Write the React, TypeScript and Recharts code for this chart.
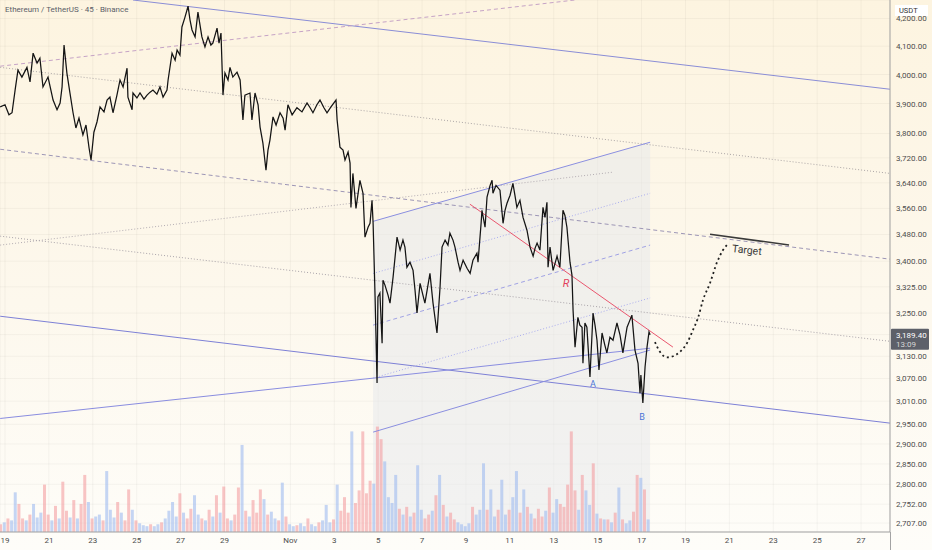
import React from 'react';
import {
  ComposedChart, Line, Bar, Area, XAxis, YAxis, CartesianGrid,
  ReferenceLine, ReferenceDot,
} from 'recharts';

// time unit: days since Oct 19 00:00
const pricePath: [number, number][] = [
  [-0.22,3889],[0.00,3896],[0.18,3862],[0.32,3869],[0.46,3946],[0.59,4015],[0.77,3991],[1.00,4025],[1.14,3974],[1.28,4075],
  [1.46,4040],[1.59,4057],[1.73,3957],[1.96,3991],[2.19,3912],[2.37,3879],[2.51,3902],[2.60,3957],[2.69,4104],[2.82,4005],
  [2.96,3936],[3.10,3869],[3.23,3818],[3.37,3851],[3.55,3795],[3.69,3828],[3.83,3752],[3.92,3713],[4.05,3804],[4.19,3838],
  [4.33,3889],[4.51,3872],[4.65,3912],[4.78,3922],[4.92,3869],[5.10,3929],[5.24,3981],[5.38,3957],[5.56,4022],[5.60,3922],
  [5.79,3879],[5.83,3936],[6.01,3919],[6.15,3936],[6.33,3915],[6.47,3929],[6.61,3939],[6.74,3946],[6.92,3932],[7.06,3957],
  [7.20,3922],[7.38,3946],[7.43,3981],[7.61,4075],[7.75,4050],[7.84,4086],[7.97,4068],[8.06,4169],[8.20,4205],[8.34,4245],
  [8.43,4194],[8.52,4158],[8.66,4133],[8.79,4223],[8.97,4133],[9.11,4097],[9.25,4133],[9.38,4104],[9.47,4111],[9.66,4165],
  [9.75,4111],[9.84,4147],[9.93,3929],[10.02,4005],[10.16,3981],[10.25,4025],[10.38,3991],[10.57,4008],[10.71,3981],[10.84,3845],
  [10.93,3929],[11.16,3936],[11.25,3845],[11.39,3936],[11.53,3896],[11.62,3821],[11.75,3768],[11.89,3680],[11.98,3745],[12.07,3778],
  [12.21,3855],[12.35,3828],[12.53,3869],[12.67,3851],[12.76,3811],[12.89,3896],[13.08,3862],[13.30,3886],[13.53,3872],[13.76,3902],
  [13.90,3886],[14.03,3869],[14.21,3896],[14.35,3912],[14.53,3886],[14.67,3869],[14.85,3889],[15.08,3912],[15.13,3845],[15.26,3755],
  [15.40,3745],[15.49,3713],[15.63,3739],[15.72,3703],[15.76,3563],[15.85,3670],[15.99,3560],[16.17,3648],[16.31,3607],[16.40,3472],
  [16.54,3502],[16.63,3514],[16.72,3585],[16.77,3514],[16.86,3296],[16.95,3058],[16.99,3296],[17.08,3307],[17.18,3166],[17.22,3344],
  [17.31,3330],[17.45,3301],[17.54,3278],[17.68,3353],[17.86,3472],[18.00,3433],[18.13,3463],[18.22,3442],[18.31,3382],[18.45,3397],
  [18.59,3373],[18.68,3315],[18.77,3250],[18.91,3335],[19.04,3301],[19.13,3278],[19.27,3330],[19.36,3364],[19.50,3278],[19.59,3236],
  [19.68,3194],[19.82,3324],[19.91,3442],[20.05,3463],[20.18,3448],[20.27,3484],[20.41,3463],[20.50,3442],[20.64,3397],[20.73,3373],
  [20.87,3403],[21.05,3379],[21.19,3364],[21.32,3403],[21.50,3424],[21.55,3397],[21.69,3514],[21.73,3554],[21.87,3502],[21.96,3595],
  [22.10,3632],[22.19,3648],[22.23,3607],[22.37,3632],[22.55,3617],[22.69,3514],[22.78,3554],[22.87,3576],[23.01,3601],[23.14,3638],
  [23.23,3601],[23.32,3563],[23.46,3585],[23.60,3532],[23.78,3493],[23.92,3442],[24.06,3415],[24.15,3439],[24.24,3454],[24.37,3433],
  [24.51,3563],[24.60,3532],[24.69,3579],[24.74,3382],[24.83,3442],[24.97,3373],[25.15,3415],[25.28,3382],[25.42,3554],[25.51,3538],
  [25.60,3502],[25.74,3397],[25.83,3359],[25.88,3258],[25.97,3155],[26.10,3238],[26.19,3216],[26.29,3210],[26.33,3111],[26.42,3222],
  [26.51,3210],[26.65,3074],[26.79,3250],[26.88,3216],[26.97,3174],[27.06,3093],[27.20,3194],[27.33,3160],[27.42,3139],[27.56,3182],
  [27.70,3174],[27.88,3222],[28.02,3188],[28.15,3139],[28.34,3210],[28.47,3230],[28.56,3244],[28.70,3147],[28.84,3111],[28.93,3031],
  [28.97,3079],[29.06,3005],[29.16,3101],[29.25,3155],[29.34,3197],[29.39,3189.4],
];

const volStart = -0.2;
const volStep = 1 / 6;
const volumes: number[] = [
  8,10,14,12,41,29,14,12,18,29, 15,20,49,18,12,27,14,52,22,15,
  33,14,29,59,31,14,16,18,12,63, 23,15,31,20,12,44,23,12,9,7,
  6,8,6,8,10,14,22,31,16,40, 20,14,24,38,18,14,12,23,16,38,
  20,47,14,12,18,46,90,22,16,33, 20,44,34,18,21,14,12,51,16,8,
  6,7,9,6,14,8,6,10,12,28, 10,13,49,22,36,20,104,30,43,104,
  40,53,50,109,96,73,36,30,59,24, 18,26,16,20,69,23,14,18,22,38,
  59,28,16,20,13,10,8,6,9,26, 18,23,71,23,44,16,23,54,18,23,
  36,63,20,44,26,19,14,24,16,22, 46,20,34,29,26,49,104,43,23,59,
  43,28,71,19,14,13,13,10,20,46, 13,9,12,21,59,56,44,13,
];
const volDir =
  'rbrbbrrbrb' + 'bbrrbrbrrb' + 'rbrrbrbbrb' + 'bbrbrrbrbb' + 'brbbrbbbbr' +
  'brrbbrbrbr' + 'brrbrrbrbr' + 'rrbrbbrbrb' + 'brbbrbbrbb' + 'brbrrrbrrr' +
  'rrbrrbbbbr' + 'brbrbbrrbr' + 'brbrrbbbbr' + 'bbbrbbrbbr' + 'bbrbrbrrrb' +
  'rbbrrrrrbr' + 'bbrbrbrbrb' + 'rbbrrbrb';

const priceTicks = [4200, 4100, 4000, 3900, 3800, 3720, 3640, 3560, 3480, 3400, 3325, 3250,
  3189.4, 3130, 3070, 3010, 2950, 2900, 2850, 2800, 2752, 2707];
const lastPrice = 3189.4;
const lastTimeLabel = '13:09';

const dayTicks = [0, 2, 4, 6, 8, 10, 13, 15, 17, 19, 21, 23, 25, 27, 29, 31, 33, 35, 37, 39];
const dayLabels = ['19', '21', '23', '25', '27', '29', 'Nov', '3', '5', '7', '9', '11', '13', '15', '17', '19', '21', '23', '25', '27'];

// drawn trend lines: [t1, p1, t2, p2]
const trendLines: { seg: [number, number, number, number]; color: string; width: number; dash?: string }[] = [
  { seg: [5.83, 4268, 40.32, 3949], color: '#8a8dd6', width: 1 },
  { seg: [-0.22, 4029, 25.97, 4268], color: '#c6a3c6', width: 1, dash: '4 3' },
  { seg: [-0.22, 4025, 40.32, 3670], color: '#aca6a6', width: 1, dash: '1 2' },
  { seg: [-0.22, 3748, 40.32, 3406], color: '#9d96b6', width: 1, dash: '4 3' },
  { seg: [-0.22, 3448, 27.70, 3674], color: '#b4adb3', width: 1, dash: '1 2' },
  { seg: [-0.22, 3475, 40.32, 3171], color: '#aaa4aa', width: 1, dash: '1 2' },
  { seg: [-0.22, 3241, 40.32, 2953], color: '#7d80d6', width: 1 },
  { seg: [-0.22, 2965, 29.39, 3152], color: '#8a8de0', width: 1 },
  { seg: [16.77, 3520, 29.39, 3771], color: '#8b8fe0', width: 1 },
  { seg: [16.77, 3364, 29.39, 3607], color: '#a9acee', width: 1, dash: '1 2' },
  { seg: [16.77, 3216, 29.39, 3448], color: '#a0a2e4', width: 1, dash: '4 3' },
  { seg: [16.77, 3071, 29.39, 3293], color: '#a9acee', width: 1, dash: '1 2' },
  { seg: [16.77, 2930, 29.39, 3147], color: '#8b8fe0', width: 1 },
  { seg: [21.18, 3573, 30.43, 3155], color: '#e9566e', width: 1 },
  { seg: [32.12, 3481, 35.72, 3448], color: '#3a3a3a', width: 1.5 },
];

const projection: [number, number][] = [
  [29.61,3169],[29.84,3142],[30.16,3127],[30.43,3130],[30.75,3142],[31.07,3166],[31.34,3202],
  [31.57,3236],[31.80,3287],[32.12,3336],[32.44,3397],[32.71,3433],[32.89,3448],
];

const channelShade: [number, number, number][] = [
  [16.77, 2686, 3520],
  [29.39, 2686, 3771],
];

const notes = [
  { text: 'R', t: 25.56, p: 3335, color: '#e23e5b', size: 11, italic: true, rotate: 0 },
  { text: 'A', t: 26.79, p: 3055, color: '#4a74d8', size: 9, italic: false, rotate: 0 },
  { text: 'B', t: 29.02, p: 2968, color: '#4a74d8', size: 9, italic: false, rotate: 0 },
  { text: 'Target', t: 33.80, p: 3433, color: '#3a3a3a', size: 10.5, italic: false, rotate: 6 },
];

const FONT = 'Roboto, "Noto Sans", sans-serif';

const priceRows = pricePath.map(([t, p]) => ({ t, p }));
const volRows = volumes.map((v, i) => ({ t: volStart + i * volStep, v, c: volDir[i] }));
const projRows = projection.map(([t, p]) => ({ t, q: p }));
const shadeRows = channelShade.map(([t, lo, hi]) => ({ t, r: [lo, hi] }));

const fmtPrice = (v: number) =>
  v.toLocaleString('en-US', { minimumFractionDigits: 2, maximumFractionDigits: 2 });

const PriceTick = (props: any) => {
  const { x, y, payload } = props;
  const v = payload.value;
  if (v === lastPrice) {
    return (
      <g>
        <rect x={x - 5} y={y - 6} width={38} height={21} fill="#5d6069" rx={1} />
        <text x={x} y={y + 3} fontSize={8} fill="#ffffff" fontFamily={FONT}>{fmtPrice(v)}</text>
        <text x={x} y={y + 12} fontSize={8} fill="#d6d6d6" fontFamily={FONT}>{lastTimeLabel}</text>
      </g>
    );
  }
  return (
    <text x={x} y={y} dy={3} fontSize={8} fill="#4d4d4d" fontFamily={FONT} textAnchor="start">
      {fmtPrice(v)}
    </text>
  );
};

const DayTick = (props: any) => {
  const { x, y, payload } = props;
  const idx = dayTicks.indexOf(payload.value);
  return (
    <text x={x} y={y} dy={8} fontSize={8} fill="#4d4d4d" fontFamily={FONT} textAnchor="middle">
      {idx >= 0 ? dayLabels[idx] : ''}
    </text>
  );
};

const VolBar = (props: any) => {
  const { x, y, width, height, payload } = props;
  if (height == null || !isFinite(height)) return null;
  const cx = x + width / 2;
  const up = payload && payload.c === 'b';
  return (
    <rect
      x={cx - 1.5} y={y} width={3} height={Math.max(0, height)}
      fill={up ? '#9fbaf0' : '#f39ea2'} fillOpacity={0.6}
    />
  );
};

export default function App() {
  return (
    <div
      style={{
        position: 'fixed', left: 0, top: 0, width: 932, height: 550,
        background: 'linear-gradient(180deg, #fdf4e0 0%, #fdf8ed 55%, #fefdf9 100%)',
        fontFamily: FONT, overflow: 'hidden',
      }}
    >
      <ComposedChart width={932} height={550} data={volRows} margin={{ top: 0, right: 0, bottom: 0, left: 0 }}>
        <CartesianGrid yAxisId="p" stroke="#000" strokeOpacity={0.04} />
        <XAxis
          dataKey="t" type="number" domain={[-0.228, 40.319]} allowDataOverflow
          ticks={dayTicks} interval={0} tick={<DayTick />} tickLine={false} tickSize={0} tickMargin={3}
          height={18} axisLine={{ stroke: '#a3a3a3' }}
        />
        <YAxis
          yAxisId="p" orientation="right" scale="log" domain={[2686, 4268]} allowDataOverflow
          ticks={priceTicks} interval={0} tick={<PriceTick />} tickLine={false} tickSize={0} tickMargin={6}
          width={42} axisLine={{ stroke: '#a3a3a3' }}
        />
        <YAxis yAxisId="v" hide domain={[0, 550]} allowDataOverflow />

        <Area
          yAxisId="p" data={shadeRows} dataKey="r" type="linear" stroke="none"
          fill="#e6e8ec" fillOpacity={0.5} isAnimationActive={false} dot={false} activeDot={false}
        />

        <Bar yAxisId="v" dataKey="v" isAnimationActive={false} shape={<VolBar />} />

        {trendLines.map((l, i) => (
          <ReferenceLine
            key={i} yAxisId="p" ifOverflow="visible"
            segment={[{ x: l.seg[0], y: l.seg[1] }, { x: l.seg[2], y: l.seg[3] }]}
            stroke={l.color} strokeWidth={l.width} strokeDasharray={l.dash}
          />
        ))}

        <Line
          yAxisId="p" data={projRows} dataKey="q" type="monotone" stroke="#1e1e1e"
          strokeWidth={1.8} strokeDasharray="2 3" dot={false} activeDot={false} isAnimationActive={false}
        />

        <Line
          yAxisId="p" data={priceRows} dataKey="p" type="linear" stroke="#141414"
          strokeWidth={1.25} dot={false} activeDot={false} isAnimationActive={false}
        />

        {notes.map((n, i) => (
          <ReferenceDot
            key={'n' + i} yAxisId="p" x={n.t} y={n.p} r={1} ifOverflow="visible"
            shape={(props: any) => (
              <text
                x={props.cx} y={props.cy} fontSize={n.size} fill={n.color} fontFamily={FONT}
                fontStyle={n.italic ? 'italic' : 'normal'} textAnchor="middle" dominantBaseline="central"
                transform={n.rotate ? `rotate(${n.rotate}, ${props.cx}, ${props.cy})` : undefined}
              >
                {n.text}
              </text>
            )}
          />
        ))}
      </ComposedChart>

      <div style={{ position: 'absolute', left: 5, top: 5, fontSize: 8, color: '#5b5e68', whiteSpace: 'nowrap', lineHeight: '10px' }}>
        Ethereum / TetherUS · 45 · Binance
      </div>
      <div
        style={{
          position: 'absolute', left: 895, top: 5, width: 33, height: 11, background: '#ffffff',
          fontSize: 7.5, color: '#333', lineHeight: '11px', paddingLeft: 4, boxSizing: 'border-box',
        }}
      >
        USDT
      </div>
      <div style={{ position: 'absolute', left: 890, top: 532, width: 1, height: 18, background: '#a3a3a3' }} />
    </div>
  );
}
